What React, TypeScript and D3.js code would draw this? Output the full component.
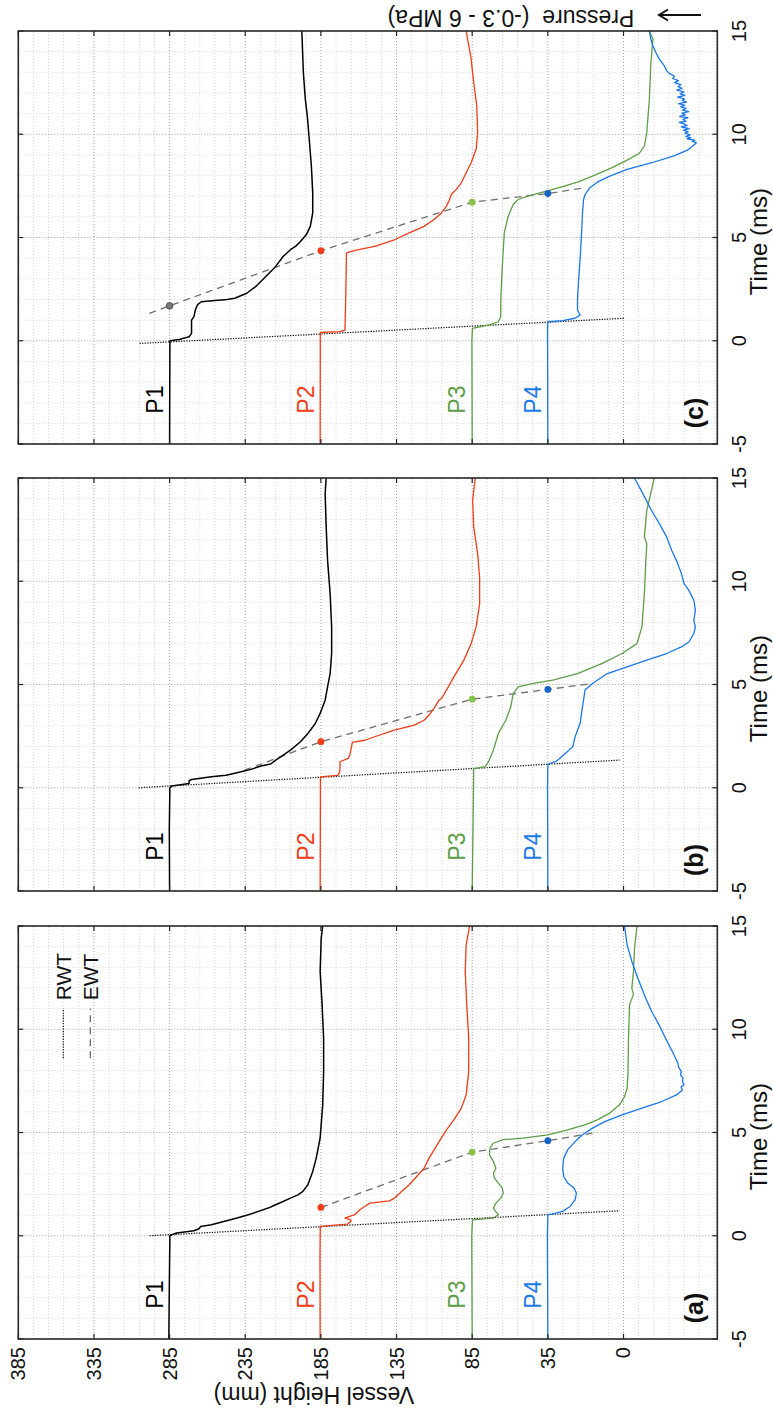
import React, { useEffect, useRef } from 'react';
import * as d3 from 'd3';

type Pt = [number, number];

const timeTicks = [-5, 0, 5, 10, 15];
const heightTicks = [385, 335, 285, 235, 185, 135, 85, 35, -15];
const heightTickLabels = ['385', '335', '285', '235', '185', '135', '85', '35', '0'];
const probeNames = ['P1', 'P2', 'P3', 'P4'];
const probeBase = [285, 185, 85, 35];
const panelNames = ['(a)', '(b)', '(c)'];

// ---- panel (a)
const p1a: Pt[] = [[-5,285.5],[-2.5,285.2],[0,284.8],[0.05,283.5],[0.13,280.3],[0.24,268.9],[0.34,265.6],[0.45,264.5],[0.53,257.4],[0.69,249.2],[0.85,241],[1.02,232.9],[1.18,226.3],[1.34,219.8],[1.5,214.9],[1.66,210],[1.82,205.1],[1.98,200.2],[2.15,196.9],[2.47,193.6],[3.11,190.4],[3.76,188.1],[4.73,185.5],[6.34,183.8],[7.95,183.2],[9.56,183.2],[11.18,184.2],[12.8,185.5],[14.4,184.8],[15,183.8]];
const p2a: Pt[] = [[-5,185.5],[-1,185.6],[0.45,185.4],[0.56,167.5],[0.69,165.2],[0.77,165.2],[0.85,169.1],[1.02,162.6],[1.26,159.3],[1.42,156],[1.58,152.7],[1.69,139.7],[1.82,136.4],[2.15,131.5],[2.47,126.6],[2.87,121.7],[3.27,116.8],[3.76,113.5],[4.16,110.2],[4.56,106.9],[5.13,102],[5.61,97.1],[6.18,92.2],[6.82,89],[7.95,87.3],[9.56,87.3],[11.18,88.6],[12.79,89.6],[14.08,89],[15,86.7]];
const p3a: Pt[] = [[-5,85],[0,85.3],[0.77,84.8],[0.85,71],[1.02,67.7],[1.15,69.3],[1.34,71],[1.58,69.3],[1.82,66.1],[2.06,64.5],[2.31,65.1],[2.55,67.7],[2.79,70.3],[3.03,71],[3.27,69.3],[3.6,71],[3.92,73.6],[4.24,73.3],[4.48,71],[4.65,64.5],[4.73,51.3],[4.89,35],[5.13,22],[5.37,10.5],[5.61,2.3],[5.94,-5.9],[6.34,-12.4],[6.74,-15.7],[7.15,-17.4],[7.95,-18],[9.56,-18.3],[11.18,-19],[11.7,-21.6],[11.98,-20.5],[12.79,-21.6],[13.92,-22.3],[15,-23.9]];
const p4a: Pt[] = [[-5,35],[0,35.3],[1.02,35],[1.05,32.4],[1.18,25.2],[1.42,20.3],[1.74,17],[2.06,16.1],[2.31,17.7],[2.55,21.9],[2.87,24.5],[3.27,25.2],[3.76,24.5],[4.16,21.9],[4.56,17],[4.89,12.1],[5.21,5.5],[5.53,-2.6],[5.85,-14],[6.18,-27.2],[6.5,-40.3],[6.82,-50],[7.06,-54],[7.2,-53],[7.31,-55],[7.45,-54],[7.63,-54.3],[7.8,-52.6],[7.95,-53.3],[8.15,-51.5],[8.35,-51],[8.92,-47.3],[9.56,-42.8],[10.2,-38.6],[10.85,-33.7],[11.66,-28.8],[12.47,-24.5],[13.27,-20.6],[14.08,-17.4],[15,-15.7]];
const rwtA: Pt[] = [[0, 298.3], [1.21, -12.5]];
const ewtA: Pt[] = [[1.37, 185], [4.05, 85], [4.6, 35], [4.97, 5.5]];
const dotsA: [number, number, number][] = [[1.37, 185, 1], [4.05, 85, 2], [4.6, 35, 3]];

// ---- panel (b)
const p1b: Pt[] = [[-5,285],[-2,285.2],[0,284.8],[0.08,283.6],[0.21,272.1],[0.34,272.1],[0.4,270.5],[0.53,257.4],[0.61,247.6],[0.77,237.8],[0.89,231.3],[1.05,224.7],[1.15,218.2],[1.34,214.9],[1.5,211.6],[1.82,205.1],[2.23,198.5],[2.63,193.6],[3.11,188.7],[3.6,185.5],[4.24,182.2],[4.89,180.6],[5.53,178.9],[6.5,177.9],[7.79,177.9],[9.4,178.9],[11.02,180.6],[12.63,181.5],[14.24,182.2],[15,181.5]];
const p2b: Pt[] = [[-5,185.5],[0.53,185.3],[0.6,174],[0.69,173],[0.85,172.4],[1.26,172.4],[1.42,167],[1.6,165.8],[2.2,164.2],[2.3,156],[2.47,149.5],[2.79,136.4],[3.03,123.3],[3.27,116.8],[3.52,113.5],[3.84,110.2],[4.24,106.9],[4.32,105.3],[4.73,102],[5.37,97.1],[6.18,90.5],[6.98,85.7],[7.79,82.4],[8.92,80.1],[10.2,80.1],[11.34,81.4],[12.63,84],[13.92,84.7],[15,83]];
const p3b: Pt[] = [[-5,85],[0.9,84],[0.94,83],[1.02,76.5],[1.26,74.2],[1.82,71],[2.63,67.7],[3.27,62.8],[3.92,59.5],[4.56,57.9],[4.89,54.6],[5.05,44.8],[5.21,31.7],[5.53,15.4],[6.02,-1],[6.5,-14],[6.98,-23.9],[7.79,-27.2],[9.4,-28.8],[11.02,-29.8],[11.82,-30.4],[12.15,-28.8],[13.44,-30.4],[14.24,-33],[15,-35.3]];
const p4b: Pt[] = [[-5,35],[0,35.2],[1.15,35],[1.26,30],[1.34,28.4],[1.66,23.5],[1.98,18.6],[2.47,17],[3.11,13.7],[3.92,12.1],[4.73,10.4],[5.05,5.5],[5.53,-4.3],[5.85,-17.4],[6.18,-30.4],[6.5,-43.5],[6.82,-53.3],[7.06,-58.2],[7.47,-61.5],[7.79,-62.5],[8.1,-61.5],[8.6,-62.5],[9.08,-61.5],[9.56,-58.2],[9.89,-55],[10.37,-53.3],[11,-50],[11.5,-46.8],[12.15,-43.5],[12.8,-38.6],[13.4,-33.7],[14.1,-28.8],[15,-22.3]];
const rwtB: Pt[] = [[0, 305.5], [1.34, -12.5]];
const ewtB: Pt[] = [[0.85, 235.5], [2.23, 185], [4.29, 85], [4.76, 35], [5.05, 5.5]];
const dotsB: [number, number, number][] = [[2.23, 185, 1], [4.29, 85, 2], [4.76, 35, 3]];

// ---- panel (c)
const p1c: Pt[] = [[-5,285],[0,284.8],[0.06,278.7],[0.19,272.1],[0.36,270.5],[1.0,270.5],[1.17,268.9],[1.49,268],[1.75,266.5],[1.89,264],[1.95,255],[2.0,247],[2.06,242],[2.3,234],[2.63,228],[3.11,221.4],[3.6,214.9],[4.08,210],[4.41,205.1],[4.57,201.8],[4.81,198.5],[5.14,194.6],[5.54,192],[6.19,190.4],[7.16,190.4],[8.46,191.3],[9.76,192.7],[10.89,194],[11.7,195.3],[13,196.6],[15,197.6]];
const p2c: Pt[] = [[-5,185.5],[0.4,185.4],[0.44,172.4],[0.52,169.1],[2,168.6],[4.25,168.1],[4.38,162.6],[4.57,149.5],[4.89,136.4],[5.22,126.6],[5.54,116.8],[5.87,110.2],[6.19,105.3],[6.52,102],[6.76,100.4],[7.08,98.8],[7.33,95.5],[7.65,92.2],[8.14,89],[8.62,85.7],[9.27,82.4],[10.08,81.4],[11.38,82],[12.51,84],[13.65,85.7],[15,89]];
const p3c: Pt[] = [[-5,85],[0,85.2],[0.6,84.8],[0.76,74.2],[0.92,67.7],[1.17,66.1],[1.98,66.1],[3.6,65.1],[5.22,63.8],[6.03,61.2],[6.6,57.9],[6.84,54.6],[7.0,48.1],[7.2,38.3],[7.46,25.2],[7.68,15.4],[7.97,5.5],[8.38,-7.5],[8.75,-17.4],[9.08,-25.5],[9.43,-28.8],[10.08,-30.4],[11.7,-32.1],[13.32,-33],[14.62,-34.4],[15,-32.1]];
const p4c: Pt[] = [[-5,35],[0.5,35.2],[0.92,35],[0.97,25.2],[1.09,17],[1.25,13.7],[1.49,15.4],[1.98,15.4],[2.79,14.8],[3.92,13.7],[5.22,12.7],[6.19,12.1],[6.84,11.4],[7.08,10.4],[7.41,7.2],[7.68,2.3],[7.97,-5.9],[8.3,-17.4],[8.62,-33.7],[8.95,-48.4],[9.27,-58.2],[9.59,-63.2],[9.66,-60.5],[9.71,-62],[9.78,-57],[9.84,-59.5],[9.9,-56.2],[9.97,-59],[10.05,-55.6],[10.12,-57.8],[10.2,-54.6],[10.27,-58.4],[10.36,-53.2],[10.42,-56.9],[10.5,-55],[10.57,-51.8],[10.63,-56.2],[10.72,-54.4],[10.8,-57.6],[10.86,-52.2],[10.94,-55.8],[11.02,-53.6],[11.1,-58.2],[11.17,-54],[11.25,-56.4],[11.33,-52.8],[11.4,-55.5],[11.48,-51.4],[11.56,-56.7],[11.64,-53.9],[11.71,-55.2],[11.8,-50.8],[11.88,-55.6],[11.96,-52.4],[12.05,-54.9],[12.14,-50.2],[12.22,-53.8],[12.3,-51.1],[12.4,-52.9],[12.5,-48.8],[12.6,-51.3],[12.7,-47.5],[12.82,-48.6],[12.95,-45.2],[13.08,-43.5],[13.32,-41.9],[13.65,-38.6],[13.97,-36.3],[14.29,-34.4],[14.62,-33],[15,-32.1]];
const rwtC: Pt[] = [[-0.13, 304.9], [1.09, -15.7]];
const ewtC: Pt[] = [[1.33, 298.3], [1.69, 285], [4.36, 185], [6.71, 85], [7.13, 35], [7.41, 10.4]];
const dotsC: [number, number, number][] = [[1.69, 285, 0], [4.36, 185, 1], [6.71, 85, 2], [7.13, 35, 3]];

// original (landscape) canvas, rotated into the portrait page
const W = 1414;
const H = 773;
const plotTop = 18.3;
const plotBottom = 717.3;
const panelLeft = [75, 523, 970];
const panelW = 413;
const lineColors = ['#000000', '#ee3d17', '#5e9d47', '#1a78ea'];
const dotColors = ['#7a7a7a', '#ee3d17', '#86c24a', '#1664c8'];
const font = "'Liberation Sans', Arial, Helvetica, sans-serif";

export default function App() {
  const ref = useRef<SVGSVGElement>(null);

  useEffect(() => {
    const svg = d3.select(ref.current);
    svg.selectAll('*').remove();
    svg.append('rect').attr('width', H).attr('height', W).attr('fill', '#fff');

    const g = svg
      .append('g')
      .attr('transform', `translate(0,${W}) rotate(-90)`)
      .style('font-family', font);

    const y = d3.scaleLinear().domain([-77, 385]).range([plotBottom, plotTop]);

    const panels = [
      { traces: [p1a, p2a, p3a, p4a], rwt: rwtA, ewt: ewtA, dots: dotsA },
      { traces: [p1b, p2b, p3b, p4b], rwt: rwtB, ewt: ewtB, dots: dotsB },
      { traces: [p1c, p2c, p3c, p4c], rwt: rwtC, ewt: ewtC, dots: dotsC },
    ];

    const minorH = d3.range(375, -77, -10).filter((v) => !heightTicks.includes(v));
    const majorH = heightTicks.filter((v) => v < 385);
    const minorT = d3.range(-4, 15).filter((v) => v % 5 !== 0);
    const majorT = [0, 5, 10];

    panels.forEach((p, i) => {
      const x = d3
        .scaleLinear()
        .domain([-5, 15])
        .range([panelLeft[i], panelLeft[i] + panelW]);
      const pg = g.append('g');

      // grid
      pg.selectAll('.gmt')
        .data(minorT)
        .enter()
        .append('line')
        .attr('x1', (d) => x(d))
        .attr('x2', (d) => x(d))
        .attr('y1', plotTop)
        .attr('y2', plotBottom)
        .attr('stroke', '#d6d6d6')
        .attr('stroke-dasharray', '1,2');
      pg.selectAll('.gmh')
        .data(minorH)
        .enter()
        .append('line')
        .attr('x1', x(-5))
        .attr('x2', x(15))
        .attr('y1', (d) => y(d))
        .attr('y2', (d) => y(d))
        .attr('stroke', '#d6d6d6')
        .attr('stroke-dasharray', '1,2');
      pg.selectAll('.gMt')
        .data(majorT)
        .enter()
        .append('line')
        .attr('x1', (d) => x(d))
        .attr('x2', (d) => x(d))
        .attr('y1', plotTop)
        .attr('y2', plotBottom)
        .attr('stroke', '#a0a0a0')
        .attr('stroke-dasharray', '1,2');
      pg.selectAll('.gMh')
        .data(majorH)
        .enter()
        .append('line')
        .attr('x1', x(-5))
        .attr('x2', x(15))
        .attr('y1', (d) => y(d))
        .attr('y2', (d) => y(d))
        .attr('stroke', '#a0a0a0')
        .attr('stroke-dasharray', '1,2');

      const line = d3
        .line<Pt>()
        .x((d) => x(d[0]))
        .y((d) => y(d[1]));

      // wave-arrival lines
      pg.append('path')
        .attr('d', line(p.rwt))
        .attr('fill', 'none')
        .attr('stroke', '#111')
        .attr('stroke-width', 1.2)
        .attr('stroke-dasharray', '1.3,1.3');
      pg.append('path')
        .attr('d', line(p.ewt))
        .attr('fill', 'none')
        .attr('stroke', '#6e6e6e')
        .attr('stroke-width', 1.3)
        .attr('stroke-dasharray', '7,5');

      // traces
      p.traces.forEach((tr, k) => {
        pg.append('path')
          .attr('d', line(tr))
          .attr('fill', 'none')
          .attr('stroke', lineColors[k])
          .attr('stroke-width', k === 0 ? 1.5 : 1.3)
          .attr('stroke-linejoin', 'round');
        pg.append('text')
          .attr('x', x(-2.85))
          .attr('y', y(probeBase[k]) - 7)
          .attr('text-anchor', 'middle')
          .attr('font-size', 23)
          .attr('fill', lineColors[k])
          .text(probeNames[k]);
      });

      pg.selectAll('.dot')
        .data(p.dots)
        .enter()
        .append('circle')
        .attr('cx', (d) => x(d[0]))
        .attr('cy', (d) => y(d[1]))
        .attr('r', 3.4)
        .attr('fill', (d) => dotColors[d[2]])
        .attr('stroke', (d) => (d[2] === 0 ? '#444' : 'none'))
        .attr('stroke-width', 0.8);

      // box + ticks
      pg.append('rect')
        .attr('x', x(-5))
        .attr('y', plotTop)
        .attr('width', panelW)
        .attr('height', plotBottom - plotTop)
        .attr('fill', 'none')
        .attr('stroke', '#262626')
        .attr('stroke-width', 1.6);
      timeTicks.forEach((t) => {
        pg.append('line')
          .attr('x1', x(t)).attr('x2', x(t))
          .attr('y1', plotBottom).attr('y2', plotBottom - 5)
          .attr('stroke', '#262626').attr('stroke-width', 1.2);
        pg.append('line')
          .attr('x1', x(t)).attr('x2', x(t))
          .attr('y1', plotTop).attr('y2', plotTop + 5)
          .attr('stroke', '#262626').attr('stroke-width', 1.2);
        pg.append('text')
          .attr('x', x(t))
          .attr('y', 746)
          .attr('text-anchor', 'middle')
          .attr('font-size', 20)
          .attr('fill', '#111')
          .text(String(t));
      });
      heightTicks.forEach((v) => {
        pg.append('line')
          .attr('x1', x(-5)).attr('x2', x(-5) + 5)
          .attr('y1', y(v)).attr('y2', y(v))
          .attr('stroke', '#262626').attr('stroke-width', 1.2);
        pg.append('line')
          .attr('x1', x(15)).attr('x2', x(15) - 5)
          .attr('y1', y(v)).attr('y2', y(v))
          .attr('stroke', '#262626').attr('stroke-width', 1.2);
      });

      pg.append('text')
        .attr('x', x(4.8))
        .attr('y', 767)
        .attr('text-anchor', 'middle')
        .attr('font-size', 24)
        .attr('fill', '#111')
        .text('Time (ms)');

      pg.append('text')
        .attr('x', x(-5) + 31)
        .attr('y', 703)
        .attr('text-anchor', 'middle')
        .attr('font-size', 25)
        .attr('font-weight', 'bold')
        .attr('fill', '#111')
        .text(panelNames[i]);

      if (i === 0) {
        heightTicks.forEach((v, j) => {
          pg.append('text')
            .attr('x', x(-5) - 8)
            .attr('y', y(v))
            .attr('dy', '0.35em')
            .attr('text-anchor', 'end')
            .attr('font-size', 20)
            .attr('fill', '#111')
            .text(heightTickLabels[j]);
        });
        // legend
        const lx1 = x(8.6);
        const lx2 = x(11.0);
        const ly1 = plotTop + 45;
        const ly2 = plotTop + 72;
        pg.append('line')
          .attr('x1', lx1).attr('x2', lx2).attr('y1', ly1).attr('y2', ly1)
          .attr('stroke', '#111').attr('stroke-width', 1.2).attr('stroke-dasharray', '1.3,1.3');
        pg.append('line')
          .attr('x1', lx1).attr('x2', lx2).attr('y1', ly2).attr('y2', ly2)
          .attr('stroke', '#6e6e6e').attr('stroke-width', 1.3).attr('stroke-dasharray', '7,5');
        pg.append('text')
          .attr('x', x(11.4)).attr('y', ly1).attr('dy', '0.35em')
          .attr('font-size', 21).attr('fill', '#111').text('RWT');
        pg.append('text')
          .attr('x', x(11.4)).attr('y', ly2).attr('dy', '0.35em')
          .attr('font-size', 21).attr('fill', '#111').text('EWT');
      }
    });

    // y axis title
    g.append('text')
      .attr('transform', 'translate(27,314) rotate(-90)')
      .attr('text-anchor', 'middle')
      .attr('font-size', 23)
      .attr('fill', '#111')
      .text('Vessel Height (mm)');

    // pressure note with arrow
    g.append('text')
      .attr('transform', 'translate(1404,511) rotate(-90)')
      .attr('text-anchor', 'middle')
      .attr('font-size', 23)
      .attr('fill', '#111')
      .style('white-space', 'pre')
      .text('Pressure  (-0.3 - 6 MPa)');
    g.append('path')
      .attr('d', 'M1399,701 L1399,660 M1393.5,668 L1399,659 L1404.5,668')
      .attr('fill', 'none')
      .attr('stroke', '#111')
      .attr('stroke-width', 2);
  }, []);

  return (
    <svg
      ref={ref}
      width={H}
      height={W}
      style={{ position: 'absolute', left: 0, top: 0, display: 'block' }}
    />
  );
}
